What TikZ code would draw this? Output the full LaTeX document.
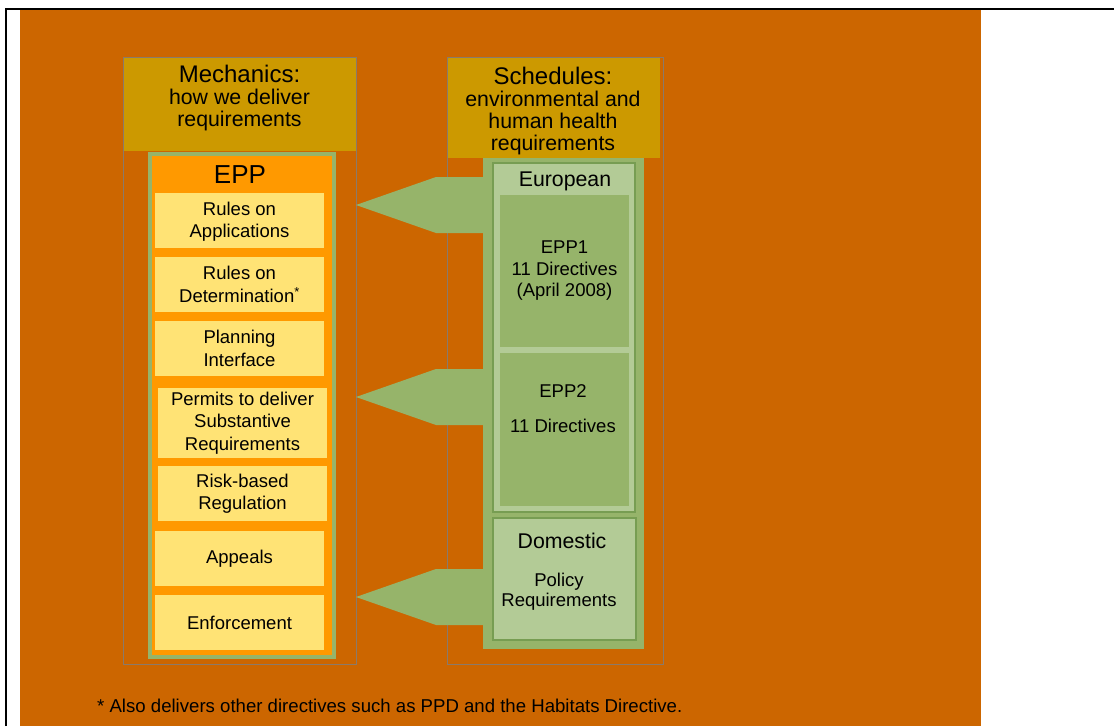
\documentclass[tikz,border=0pt]{standalone}
\usepackage{fontspec}
\setmainfont{Liberation Sans}
\usetikzlibrary{calc}
\definecolor{bgorange}{HTML}{CC6600}
\definecolor{headgold}{HTML}{CC9900}
\definecolor{framegrey}{HTML}{8A7A6A}
\definecolor{leafgreen}{HTML}{96B46A}
\definecolor{palegreen}{HTML}{B3CB96}
\definecolor{darkgreen}{HTML}{779D52}
\definecolor{eppamber}{HTML}{FF9900}
\definecolor{ruleyellow}{HTML}{FFE375}
\tikzset{
  ruleitem/.style={fill=ruleyellow, inner sep=0, minimum width=169, minimum height=55,
    align=center, font=\fontsize{18.5}{22.5}\selectfont},
  headbox/.style={fill=headgold, inner sep=0},
  headtext/.style={align=center, inner sep=0, font=\fontsize{21.3}{22}\selectfont},
  outerframe/.style={draw=framegrey, line width=1, inner sep=0, minimum height=607},
  schedbox/.style={draw=darkgreen, line width=2, fill=palegreen, inner sep=0},
  eppbox/.style={fill=leafgreen, inner sep=0, minimum width=129},
  bodytext/.style={align=center, inner sep=0, font=\fontsize{18.5}{22.5}\selectfont},
  titletext/.style={inner sep=0, font=\fontsize{21.3}{22}\selectfont}
}
\begin{document}
\begin{tikzpicture}[x=1pt,y=-1pt]
        \useasboundingbox (0,0) rectangle (1114,726);
        \fill[white] (0,0) rectangle (1114,726);
        \fill[bgorange] (20,10) rectangle (981,726);
        \draw[line width=2] (6,726) -- (6,9) -- (1114,9);

        \node[headbox, minimum width=233, minimum height=94] (mechhead) at (239.5,104) {};
        \node[outerframe, minimum width=233] (mechframe) at (239.5,360.5) {};
        \node[headtext] (mechtitle) at (239.5,98.5) {{\fontsize{24}{22}\selectfont Mechanics:}\\how we deliver\\requirements};
        \node[draw=leafgreen, line width=4, fill=eppamber, minimum width=184, minimum height=503, inner sep=0] (eppframe) at (242,405.5) {};
        \node[inner sep=0, font=\fontsize{26}{26}\selectfont] (epptitle) at (240,174.5) {EPP};
        \node[ruleitem] (app) at (239.5,220.5) {\rule{0pt}{16pt}Rules on\\Applications};
        \node[ruleitem] (det) at (239.5,284.5) {Rules on\\Determination\textsuperscript{*}};
        \node[ruleitem] (plan) at (239.5,348.5) {Planning\\Interface};
        \node[ruleitem, minimum height=70] (perm) at (242.5,423) {Permits to deliver\\Substantive\\Requirements};
        \node[ruleitem] (risk) at (242.5,493.5) {Risk-based\\Regulation};
        \node[ruleitem] (appeal) at (239.5,558.5) {Appeals};
        \node[ruleitem] (enforce) at (239.5,622.5) {Enforcement};

        \node[headbox, minimum width=213, minimum height=101] (schedhead) at (553.5,107.5) {};
        \node[outerframe, minimum width=216] (schedframe) at (555,360.5) {};
        \node[headtext] (schedtitle) at (553,111) {{\fontsize{24}{22}\selectfont Schedules:}\\environmental and\\human health\\requirements};

        \foreach \name/\ty in {app/205,perm/397,enforce/597}{
          \coordinate (tip\name) at (356,\ty);
          \fill[leafgreen] (tip\name) -- ++(80,-28) -- ++(47,0) -- ++(0,56) -- ++(-47,0) -- cycle;
        }

        \node[fill=leafgreen, minimum width=161, minimum height=491, inner sep=0] (panel) at (563.5,403.5) {};
        \node[schedbox, minimum width=142, minimum height=349] (european) at (564,337.5) {};
        \node[titletext] (eurtitle) at (565,181.5) {European};
        \node[eppbox, minimum height=152, align=center, font=\fontsize{18.5}{21.5}\selectfont] (eppone) at (564.5,271) {EPP1\\11 Directives\\ (April 2008)};
        \node[eppbox, minimum height=153] (epptwo) at (564.5,429.5) {};
        \node[bodytext] (epptwotext) at (563,409) {EPP2\\[12.5pt]11 Directives};
        \node[schedbox, minimum width=143, minimum height=122] (domestic) at (564.5,579) {};
        \node[titletext] (domtitle) at (562,541.3) {Domestic};
        \node[bodytext, font=\fontsize{18.5}{19.5}\selectfont] (domtext) at (559,591.8) {Policy\\Requirements};

        \node[anchor=base west, inner sep=0, font=\fontsize{18.6}{22}\selectfont] (footnote) at (97,712) {* Also delivers other directives such as PPD and the Habitats Directive.};
      \end{tikzpicture}
\end{document}
